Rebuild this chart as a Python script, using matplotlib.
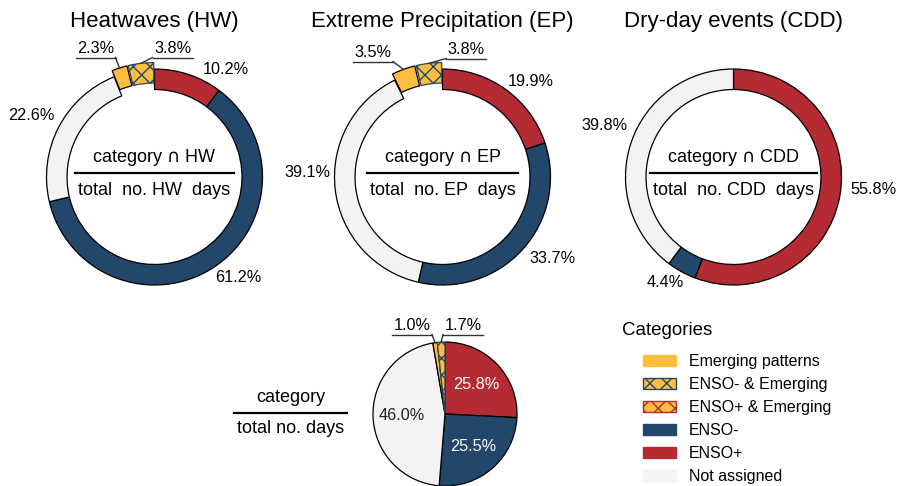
import matplotlib
matplotlib.use("Agg")
import matplotlib.pyplot as plt
from matplotlib.patches import Patch
from matplotlib.lines import Line2D
import numpy as np

plt.rcParams["font.family"] = ["Liberation Sans", "DejaVu Sans"]
plt.rcParams["hatch.linewidth"] = 1.0
plt.rcParams["mathtext.fontset"] = "dejavusans"

# Share of days (%) per category, clockwise from 12 o'clock:
# ENSO+, ENSO-, Not assigned, Emerging patterns, ENSO- & Emerging
hw_pct = [10.2, 61.2, 22.6, 2.3, 3.8]
ep_pct = [19.9, 33.7, 39.1, 3.5, 3.8]
cdd_pct = [55.8, 4.4, 39.8]
all_pct = [25.8, 25.5, 46.0, 1.0, 1.7]

titles = ["Heatwaves (HW)", "Extreme Precipitation (EP)", "Dry-day events (CDD)"]
abbrevs = ["HW", "EP", "CDD"]
legend_labels = ["Emerging patterns", "ENSO- & Emerging", "ENSO+ & Emerging",
                 "ENSO-", "ENSO+", "Not assigned"]

RED = "#b52b33"
BLUE = "#23476b"
YELLOW = "#fdbd3d"
GREY = "#f3f3f3"
SLICE_COLORS = [RED, BLUE, GREY, YELLOW, YELLOW]
EXPLODE = [0, 0, 0, 0.06, 0.06]

W, H, DPI = 897, 486, 100
HALF = 1.7
fig = plt.figure(figsize=(W / DPI, H / DPI), dpi=DPI)


def px_axes(cx, cy, r):
    ax = fig.add_axes([(cx - HALF * r) / W, (H - cy - HALF * r) / H,
                       2 * HALF * r / W, 2 * HALF * r / H])
    return ax


def finish(ax):
    ax.set_xlim(-HALF, HALF)
    ax.set_ylim(-HALF, HALF)
    ax.set_aspect("equal")
    ax.axis("off")


def underlined_label(ax, wedge, text, pos, r_px):
    th = np.deg2rad((wedge.theta1 + wedge.theta2) / 2)
    cx, cy = wedge.center
    px, py = cx + wedge.r * np.cos(th), cy + wedge.r * np.sin(th)
    x, y = pos
    ax.text(x, y, text, ha="center", va="center", fontsize=11.7)
    hw = 20 / r_px
    yu = y - 9.5 / r_px
    ax.plot([x - hw, x + hw], [yu, yu], color="#333333", lw=1.0, clip_on=False)
    xe = x + hw if px > x else x - hw
    ax.plot([xe, px], [yu, py], color="#333333", lw=1.0, clip_on=False)


def fraction_bar(ax, top, bottom, r_px, fs=13):
    ax.text(0, 15.5 / r_px, top, ha="center", va="baseline", fontsize=fs)
    t = ax.text(0, -17.5 / r_px, bottom, ha="center", va="baseline", fontsize=fs)
    renderer = fig.canvas.get_renderer()
    bb = t.get_window_extent(renderer)
    inv = ax.transData.inverted()
    x0 = inv.transform((bb.x0, bb.y0))[0] - 3 / r_px
    x1 = inv.transform((bb.x1, bb.y0))[0] + 3 / r_px
    ly = 4 / r_px
    ax.plot([x0, x1], [ly, ly], color="black", lw=1.6)


def donut(cx, cy, r_px, pct, title, abbr, label_pos, small_pos):
    ax = px_axes(cx, cy, r_px)
    n = len(pct)
    wedges, _ = ax.pie(pct, colors=SLICE_COLORS[:n], explode=EXPLODE[:n],
                       startangle=90, counterclock=False, radius=1,
                       wedgeprops=dict(width=0.19, edgecolor="black", linewidth=0.9))
    if n == 5:
        wedges[4].set_hatch("xx")
        wedges[4].set_edgecolor(BLUE)
    finish(ax)
    for v, pos in zip(pct[:3], label_pos):
        ax.text(pos[0], pos[1], f"{v:.1f}%", ha="center", va="center", fontsize=11.7)
    for w, v, pos in zip(wedges[3:], pct[3:], small_pos):
        underlined_label(ax, w, f"{v:.1f}%", pos, r_px)
    fraction_bar(ax, f"category $\\cap$ {abbr}", f"total  no. {abbr}  days", r_px)
    fig.text(cx / W, 1 - 22 / H, title, ha="center", va="center", fontsize=16)


donut(154.5, 177, 108, hw_pct, titles[0], abbrevs[0],
      [(0.657, 0.991), (0.778, -0.926), (-1.139, 0.565)],
      [(-0.546, 1.194), (0.167, 1.194)])
donut(442.5, 177, 108, ep_pct, titles[1], abbrevs[1],
      [(0.819, 0.880), (1.014, -0.75), (-1.255, 0.046)],
      [(-0.644, 1.157), (0.218, 1.185)])
donut(733.5, 177, 108, cdd_pct, titles[2], abbrevs[2],
      [(1.292, -0.12), (-0.634, -0.981), (-1.19, 0.48)],
      [])

# Overall pie of all days
r_pie = 72
axp = px_axes(445, 414, r_pie)
wedges, _ = axp.pie(all_pct, colors=SLICE_COLORS, startangle=90, counterclock=False,
                    radius=1, wedgeprops=dict(edgecolor="black", linewidth=0.9))
wedges[4].set_hatch("xx")
wedges[4].set_edgecolor(BLUE)
finish(axp)
for w, v, tc in zip(wedges[:3], all_pct[:3], ["white", "white", "#222222"]):
    th = np.deg2rad((w.theta1 + w.theta2) / 2)
    axp.text(0.6 * np.cos(th), 0.6 * np.sin(th), f"{v:.1f}%", ha="center",
             va="center", fontsize=11.7, color=tc)
for w, v, pos in zip(wedges[3:], all_pct[3:], [(-0.458, 1.236), (0.25, 1.236)]):
    underlined_label(axp, w, f"{v:.1f}%", pos, r_pie)

# Fraction caption left of the pie
fig.text(290.5 / W, 1 - 402 / H, "category", ha="center", va="baseline", fontsize=13)
tb = fig.text(290.5 / W, 1 - 433 / H, "total no. days", ha="center", va="baseline", fontsize=13)
bb = tb.get_window_extent(fig.canvas.get_renderer())
fig.add_artist(Line2D([(bb.x0 - 3) / W, (bb.x1 + 3) / W], [1 - 413 / H, 1 - 413 / H],
                      transform=fig.transFigure, color="black", lw=1.6))

# Legend
handles = [
    Patch(facecolor=YELLOW, edgecolor=YELLOW),
    Patch(facecolor=YELLOW, edgecolor=BLUE, hatch="xx"),
    Patch(facecolor=YELLOW, edgecolor=RED, hatch="xx"),
    Patch(facecolor=BLUE, edgecolor=BLUE),
    Patch(facecolor=RED, edgecolor=RED),
    Patch(facecolor=GREY, edgecolor=GREY),
]
fig.text(622 / W, 1 - 330 / H, "Categories", ha="left", va="center", fontsize=13.5)
fig.legend(handles, legend_labels, loc="upper left",
           bbox_to_anchor=(643 / W, 1 - 354 / H), frameon=False, fontsize=11.5,
           handlelength=2.06, handleheight=0.69, labelspacing=0.5,
           handletextpad=0.8, borderpad=0, borderaxespad=0)

fig.savefig("out.png", dpi=DPI)
